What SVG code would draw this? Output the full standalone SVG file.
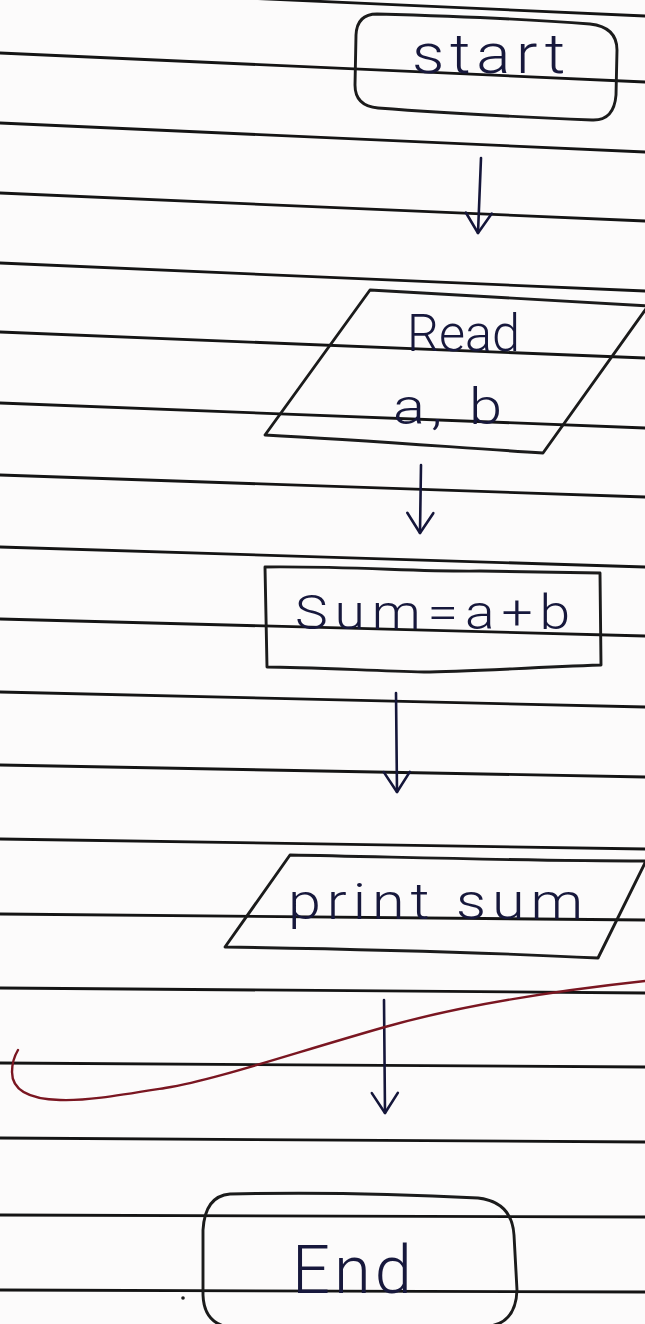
<svg xmlns="http://www.w3.org/2000/svg" width="645" height="1324" viewBox="0 0 645 1324">
  <style>
    .paper { fill: #fcfbfb; }
    .rule { stroke: #141414; stroke-width: 2.8; fill: none; stroke-linecap: round; }
    .shape { stroke: #1b1b1b; stroke-width: 2.9; fill: none; stroke-linejoin: round; stroke-linecap: round; }
    .conn { stroke: #15163a; stroke-width: 2.6; fill: none; stroke-linecap: round; }
    .ink { fill: #17183c; font-family: Roboto, "Liberation Sans", "DejaVu Sans", sans-serif; font-weight: 300; }
    .red { stroke: #7a1621; stroke-width: 2.4; fill: none; stroke-linecap: round; }
  </style>
  <defs>
    <marker id="vhead" viewBox="-24 -16 28 32" refX="0" refY="0" markerWidth="28" markerHeight="32" markerUnits="userSpaceOnUse" orient="auto">
      <path d="M-20,-13 L0,0 L-20,13" fill="none" stroke="#15163a" stroke-width="2.6" stroke-linecap="round" stroke-linejoin="round"/>
    </marker>
  </defs>

  <rect class="paper" x="0" y="0" width="645" height="1324"/>

  <!-- ruled notebook lines -->
  <g id="rules">
    <line class="rule" x1="0" y1="-13" x2="645" y2="16"/>
    <line class="rule" x1="0" y1="53" x2="645" y2="82"/>
    <line class="rule" x1="0" y1="123" x2="645" y2="152"/>
    <line class="rule" x1="0" y1="193" x2="645" y2="221"/>
    <line class="rule" x1="0" y1="263" x2="645" y2="291"/>
    <line class="rule" x1="0" y1="332" x2="645" y2="358"/>
    <line class="rule" x1="0" y1="403" x2="645" y2="428"/>
    <line class="rule" x1="0" y1="475" x2="645" y2="497"/>
    <line class="rule" x1="0" y1="547" x2="645" y2="567"/>
    <line class="rule" x1="0" y1="619" x2="645" y2="636"/>
    <line class="rule" x1="0" y1="692" x2="645" y2="707"/>
    <line class="rule" x1="0" y1="765" x2="645" y2="777"/>
    <line class="rule" x1="0" y1="839" x2="645" y2="849"/>
    <line class="rule" x1="0" y1="914" x2="645" y2="920"/>
    <line class="rule" x1="0" y1="988" x2="645" y2="993"/>
    <line class="rule" x1="0" y1="1063" x2="645" y2="1067"/>
    <line class="rule" x1="0" y1="1138" x2="645" y2="1142"/>
    <line class="rule" x1="0" y1="1215" x2="645" y2="1217"/>
    <line class="rule" x1="0" y1="1290" x2="645" y2="1292"/>
  </g>

  <!-- terminal: start -->
  <g id="node-start">
    <path class="shape" d="M377,14 C450,16 540,20 590,24 Q617,27 617,50 L616,95 Q614,121 592,120 C520,117 430,112 378,108 Q355,106 355,85 L356,35 Q357,14 377,14 Z"/>
    <text class="ink" x="412" y="73" font-size="56" letter-spacing="5" textLength="159" lengthAdjust="spacingAndGlyphs">start</text>
  </g>

  <!-- input: read a, b -->
  <g id="node-read">
    <path class="shape" d="M370,290 C460,295 560,301 648,306 L543,453 C450,447 360,440 265,435 Z"/>
    <text class="ink" x="407" y="351" font-size="52" textLength="113" lengthAdjust="spacingAndGlyphs">Read</text>
    <text class="ink" x="393" y="424" font-size="50" letter-spacing="5" textLength="115" lengthAdjust="spacingAndGlyphs">a, b</text>
  </g>

  <!-- process: sum -->
  <g id="node-sum">
    <path class="shape" d="M265,567 C350,566 420,572 480,571 L600,573 L601,665 C520,668 460,672 424,672 C360,670 300,667 267,667 Z"/>
    <text class="ink" x="295" y="629" font-size="48" letter-spacing="6" textLength="282" lengthAdjust="spacingAndGlyphs">Sum=a+b</text>
  </g>

  <!-- output: print sum -->
  <g id="node-print">
    <path class="shape" d="M290,855 C400,857 520,861 646,861 L598,958 C480,952 350,949 225,947 Z"/>
    <text class="ink" x="288" y="919" font-size="50" letter-spacing="5" textLength="301" lengthAdjust="spacingAndGlyphs">print sum</text>
  </g>

  <!-- terminal: end -->
  <g id="node-end">
    <path class="shape" d="M230,1194 C320,1192 420,1195 478,1198 Q512,1202 514,1235 L517,1290 Q516,1322 490,1326 L235,1328 Q204,1326 203,1295 L203,1230 Q205,1196 230,1194 Z"/>
    <text class="ink" x="292" y="1293" font-size="66" letter-spacing="4" textLength="124" lengthAdjust="spacingAndGlyphs">End</text>
  </g>

  <!-- flow arrows -->
  <g id="connectors">
    <path class="conn" d="M481,158 L478,233" marker-end="url(#vhead)"/>
    <path class="conn" d="M421,465 L420,533" marker-end="url(#vhead)"/>
    <path class="conn" d="M396,693 L397,792" marker-end="url(#vhead)"/>
    <path class="conn" d="M384,1000 L385,1113" marker-end="url(#vhead)"/>
  </g>

  <!-- red pen stroke across the page -->
  <path class="red" d="M645,981 C590,987 480,1000 385,1027 S215,1080 165,1088 S85,1101 60,1100 C25,1099 12,1088 12,1072 C12,1062 15,1055 18,1050"/>
  <circle cx="183" cy="1298" r="1.8" fill="#1b1b1b"/>
</svg>
